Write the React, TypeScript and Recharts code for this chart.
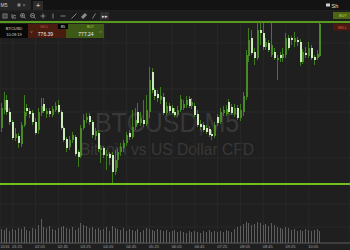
import React from 'react'
import { ComposedChart, Bar, XAxis, YAxis, CartesianGrid, ReferenceLine } from 'recharts'

const FONT = '"Liberation Sans", Arial, sans-serif'
const BG = '#1f1f1f'
const WICK = '#3f7c1e'
const UP_BODY = '#4a8a26'
const DOWN_BODY = '#cdeabd'

// BTCUSD M5 candles, first one at 01:05
const opens = [
  777.2, 779.0, 780.0, 778.8, 777.8, 776.2, 776.4, 775.6, 777.5, 779.2,
  778.9, 778.7, 777.8, 777.0, 778.7, 779.6, 778.6, 778.9, 778.5, 779.0,
  779.5, 778.8, 777.2, 776.1, 775.3, 776.0, 776.3, 774.8, 774.4, 777.2,
  778.0, 778.4, 777.8, 776.4, 776.7, 775.0, 775.2, 774.4, 774.6, 774.5,
  772.8, 774.0, 774.8, 775.2, 775.7, 776.7, 776.3, 777.3, 778.8, 777.7,
  778.0, 777.6, 778.8, 782.8, 781.0, 780.6, 780.0, 780.3, 778.7, 779.4,
  779.2, 778.8, 778.5, 779.0, 779.2, 779.5, 780.1, 779.4, 779.4, 778.6,
  777.6, 777.5, 777.2, 777.1, 776.6, 776.4, 778.3, 777.8, 778.7, 778.6,
  779.8, 779.3, 778.6, 779.2, 778.2, 778.8, 780.3, 784.4, 786.2, 784.8,
  784.2, 787.0, 786.7, 785.3, 785.7, 784.5, 784.8, 784.0, 784.5, 784.2,
  784.5, 786.2, 786.2, 785.8, 786.0, 785.8, 783.8, 784.7, 784.4, 785.2,
  784.3, 784.2, 784.4,
]
const highs = [
  779.7, 780.8, 780.5, 779.2, 778.0, 777.2, 776.7, 777.8, 780.5, 779.6,
  779.2, 779.0, 778.2, 779.2, 780.2, 780.2, 779.2, 779.2, 779.4, 779.8,
  780.0, 779.0, 777.4, 776.3, 776.4, 776.8, 776.5, 775.0, 777.5, 778.6,
  778.7, 778.7, 778.0, 777.2, 777.0, 775.5, 775.4, 775.0, 774.8, 774.8,
  775.0, 775.2, 775.7, 776.0, 776.8, 777.0, 779.0, 779.2, 779.7, 778.8,
  780.0, 780.5, 783.3, 783.2, 781.2, 781.0, 781.3, 780.7, 779.8, 779.7,
  779.5, 779.2, 779.4, 780.5, 780.0, 780.4, 780.4, 780.2, 779.7, 779.0,
  778.0, 777.8, 777.5, 777.4, 777.0, 777.8, 778.6, 779.2, 779.4, 779.5,
  780.1, 779.6, 779.6, 779.5, 779.6, 780.8, 785.0, 787.2, 787.0, 785.2,
  787.9, 787.8, 787.7, 786.2, 786.0, 787.7, 785.2, 784.5, 784.8, 785.2,
  786.7, 786.5, 786.4, 786.8, 786.3, 786.1, 785.1, 785.3, 785.8, 785.5,
  784.5, 785.0, 787.8,
]
const lows = [
  776.8, 778.6, 778.5, 777.5, 776.0, 775.9, 775.2, 775.3, 777.3, 778.4,
  778.2, 777.5, 776.5, 776.6, 778.4, 778.7, 778.2, 778.3, 778.3, 778.8,
  778.6, 777.0, 775.8, 774.8, 775.0, 775.7, 774.4, 773.3, 774.2, 777.0,
  777.7, 777.5, 776.2, 776.0, 774.8, 773.7, 774.2, 773.0, 773.5, 771.7,
  772.5, 773.2, 774.4, 774.8, 775.4, 776.0, 776.1, 777.0, 777.5, 777.4,
  777.3, 777.4, 778.2, 780.7, 780.0, 779.8, 779.6, 778.5, 778.5, 778.7,
  778.6, 778.3, 778.3, 778.8, 779.0, 779.2, 779.2, 779.1, 778.3, 777.3,
  777.0, 776.8, 776.6, 776.3, 776.0, 776.2, 777.4, 777.6, 778.4, 778.4,
  778.6, 778.5, 778.3, 778.0, 777.9, 778.4, 780.0, 783.8, 784.5, 783.5,
  784.0, 785.5, 785.0, 785.0, 784.8, 784.3, 784.0, 782.0, 783.8, 783.8,
  784.2, 785.0, 785.5, 785.3, 785.4, 783.4, 783.6, 784.2, 784.2, 784.0,
  783.5, 784.0, 784.3,
]
const closes = [
  779.2, 780.0, 778.8, 777.8, 776.2, 776.6, 775.7, 777.5, 778.8, 778.9,
  778.6, 777.8, 776.7, 778.8, 779.4, 778.9, 778.9, 778.6, 779.1, 779.4,
  778.8, 777.2, 776.0, 775.2, 776.0, 776.5, 774.6, 774.3, 777.2, 778.0,
  778.3, 777.8, 776.5, 776.9, 775.1, 775.2, 774.5, 774.6, 774.2, 772.8,
  774.0, 774.8, 775.3, 775.7, 776.5, 776.3, 777.3, 778.0, 777.7, 778.2,
  777.6, 779.0, 782.0, 781.0, 780.4, 780.2, 780.4, 778.7, 779.4, 778.9,
  778.7, 778.5, 779.0, 780.1, 779.6, 780.0, 779.4, 779.8, 778.5, 777.5,
  777.3, 777.0, 776.8, 776.5, 776.4, 777.5, 777.7, 778.8, 779.0, 779.1,
  778.8, 778.7, 779.2, 778.2, 779.0, 780.4, 784.5, 786.0, 784.7, 784.2,
  787.0, 786.7, 785.3, 785.8, 785.0, 785.5, 784.2, 784.2, 784.2, 784.6,
  786.2, 785.2, 786.0, 786.2, 785.8, 783.8, 784.8, 784.5, 785.2, 784.2,
  784.0, 784.6, 787.6,
]
const volumes = [
  140, 130, 150, 120, 140, 130, 150, 140, 160, 130, 120, 150, 140, 180,
  240,
  160, 150, 170, 140, 130, 150, 160, 170, 150, 140, 160, 130, 150,
  200, 180, 170, 150, 160, 140,
  150, 130, 140, 160, 120, 170, 150, 140, 130, 150, 120, 140,
  130, 120, 140, 110, 130, 150, 140, 130, 120, 140, 130, 120, 130, 110, 120, 130,
  110, 120, 110, 100, 120, 110, 120, 110, 100, 120, 110, 130, 110, 120, 110, 120, 110, 130, 120, 110, 140,
  160, 170, 190, 210, 200, 180, 190, 210, 200, 180, 190, 170, 200, 180,
  160, 150, 140, 160, 150,
  130, 140, 120, 130, 120, 140, 130, 120, 130, 140, 120,
]
const timeTicks = [
  '01:25', '02:05', '02:45', '03:25', '04:05', '04:45', '05:25',
  '06:05', '06:45', '07:25', '08:05', '08:45', '09:25', '10:05',
]
const priceGrid = [785.7, 783.4, 781.1, 778.8, 776.5, 774.2, 771.9, 769.6, 767.3]
const resistance = 787.8
const support = 771.6
const SLOTS = 123

const data = Array.from({ length: SLOTS }, (_, i) => {
  const m = 65 + i * 5
  const time = `${String(Math.floor(m / 60)).padStart(2, '0')}:${String(m % 60).padStart(2, '0')}`
  if (i >= opens.length) return { time }
  return {
    time,
    open: opens[i],
    high: highs[i],
    low: lows[i],
    close: closes[i],
    range: [lows[i], highs[i]],
    volume: volumes[i],
  }
})

function CandleShape(props: any) {
  const { x, y, width, height, payload } = props
  if (!payload || payload.high == null || height == null) return <g />
  const top = Math.min(y, y + height)
  const h = Math.abs(height)
  const k = h / (payload.high - payload.low || 1)
  const yO = top + (payload.high - payload.open) * k
  const yC = top + (payload.high - payload.close) * k
  const cx = Math.floor(x + width / 2)
  const up = payload.close >= payload.open
  return (
    <g shapeRendering="crispEdges">
      <rect x={cx} y={top} width={1} height={Math.max(1, h)} fill={WICK} />
      <rect
        x={cx - 0.5}
        y={Math.min(yO, yC)}
        width={2}
        height={Math.max(1, Math.abs(yC - yO))}
        fill={up ? UP_BODY : DOWN_BODY}
      />
    </g>
  )
}

function VolumeShape(props: any) {
  const { x, y, width, height } = props
  if (!height) return <g />
  return (
    <rect
      x={Math.floor(x + width / 2)}
      y={Math.min(y, y + height)}
      width={1}
      height={Math.abs(height)}
      fill="#5e5e5e"
      shapeRendering="crispEdges"
    />
  )
}

function TimeTick(props: any) {
  const { x, y, payload } = props
  return (
    <text x={x - 0.5} y={y + 5.3} fontSize={4} fill="#a0a0a0" fontFamily={FONT} textAnchor="start">
      {payload.value}
    </text>
  )
}

function Icon({ x, children }: { x: number; children: React.ReactNode }) {
  return <g transform={`translate(${x},16)`} stroke="#9a9a9a" strokeWidth={0.8} fill="none">{children}</g>
}

function Toolbar() {
  return (
    <svg width={350} height={250} style={{ position: 'absolute', left: 0, top: 0, pointerEvents: 'none' }}>
      <rect x={0} y={0} width={350} height={10.5} fill="#131313" />
      <rect x={0} y={0} width={31} height={10.5} fill="#262626" />
      <text x={0.5} y={7} fontSize={5} fill="#d0d0d0" fontFamily={FONT}>M5</text>
      <rect x={17.5} y={3.5} width={3} height={3} fill="#8a8a8a" />
      <text x={22.5} y={7.2} fontSize={5} fill="#8a8a8a" fontFamily={FONT}>×</text>
      <rect x={33} y={1} width={10} height={9} fill="#2c2c2c" />
      <text x={38} y={8.3} fontSize={8} fill="#e0e0e0" fontFamily={FONT} textAnchor="middle">+</text>
      <rect x={326} y={3.5} width={4} height={3} fill="#cfcfcf" />
      <text x={331.5} y={7.5} fontSize={5.5} fill="#e0e0e0" fontFamily={FONT}>Sh</text>
      <rect x={0} y={10.5} width={350} height={10} fill="#1c1c1c" />
      <line x1={0} y1={10.75} x2={350} y2={10.75} stroke="#2c2c2c" strokeWidth={0.5} />

      <Icon x={5}><rect x={-2} y={-2} width={4} height={4} /><line x1={-1} y1={0} x2={1} y2={0} /></Icon>
      <Icon x={14}><polyline points="-2,-2 -2,2 2,2" /><polyline points="-1,1 0,-1 2,0" /></Icon>
      <Icon x={23}><circle cx={-0.5} cy={-0.5} r={2} /><line x1={1} y1={1} x2={2.5} y2={2.5} /><line x1={-1.5} y1={-0.5} x2={0.5} y2={-0.5} /><line x1={-0.5} y1={-1.5} x2={-0.5} y2={0.5} /></Icon>
      <Icon x={33}><circle cx={-0.5} cy={-0.5} r={2} /><line x1={1} y1={1} x2={2.5} y2={2.5} /><line x1={-1.5} y1={-0.5} x2={0.5} y2={-0.5} /></Icon>
      <Icon x={43}><line x1={-2.5} y1={0} x2={2.5} y2={0} /><line x1={0} y1={-2.5} x2={0} y2={2.5} /></Icon>
      <Icon x={53}><line x1={0} y1={-2.5} x2={0} y2={2.5} /></Icon>
      <Icon x={63}><line x1={-2.5} y1={0} x2={2.5} y2={0} /></Icon>
      <Icon x={74}><line x1={-2.5} y1={2.5} x2={2.5} y2={-2.5} /></Icon>
      <Icon x={84}><line x1={-2.5} y1={1.5} x2={1.5} y2={-2.5} strokeWidth={1.4} /><line x1={-1.5} y1={2.5} x2={2.5} y2={-1.5} strokeWidth={1.4} /></Icon>
      <Icon x={94}><line x1={-1.5} y1={2.5} x2={1.5} y2={-2.5} /></Icon>
      <rect x={100} y={12} width={9} height={8} fill="#2e2e2e" />
      <text x={104.5} y={18} fontSize={5} fill="#e0e0e0" fontFamily={FONT} textAnchor="middle">▸▸</text>

      <rect x={333} y={12} width={17} height={7} fill="#4c6514" />
      <text x={339} y={17} fontSize={3.8} fill="#bcd448" fontFamily={FONT}>BUY</text>
      <rect x={333} y={23.5} width={17} height={7} fill="#4a1a10" />
      <text x={337.5} y={28.5} fontSize={3.8} fill="#e2553c" fontFamily={FONT}>SELL</text>

      <rect x={0} y={24} width={28} height={14} fill="#090909" />
      <text x={14} y={29.6} fontSize={4} fill="#dcdcdc" fontFamily={FONT} textAnchor="middle">BTCUSD</text>
      <text x={14} y={35.6} fontSize={4} fill="#cfcfcf" fontFamily={FONT} textAnchor="middle">10:28:19</text>
      <rect x={28} y={24} width={38} height={14} fill="#4a1c10" />
      <text x={31.5} y={32.5} fontSize={4} fill="#9a9a9a" fontFamily={FONT} textAnchor="middle">v</text>
      <text x={40} y={28.4} fontSize={3.5} fill="#d2492f" fontFamily={FONT}>SELL</text>
      <text x={45.5} y={35.6} fontSize={5} fill="#ececec" fontFamily={FONT} textAnchor="middle">776.39</text>
      <rect x={66} y={24} width={38} height={14} fill="#3e5816" />
      <text x={87} y={28.4} fontSize={3.5} fill="#a9c93c" fontFamily={FONT}>BUY</text>
      <text x={86} y={35.6} fontSize={5} fill="#ececec" fontFamily={FONT} textAnchor="middle">777.24</text>
      <text x={100.5} y={32.5} fontSize={4} fill="#9a9a9a" fontFamily={FONT} textAnchor="middle">v</text>
      <rect x={58} y={24} width={10} height={5} fill="#000" />
      <text x={63} y={28.2} fontSize={4} fill="#eeeeee" fontFamily={FONT} textAnchor="middle">85</text>

      <text x={0.5} y={248.3} fontSize={4} fill="#a0a0a0" fontFamily={FONT} textAnchor="start">2016</text>
    </svg>
  )
}

function Watermark() {
  return (
    <svg width={350} height={250} style={{ position: 'absolute', left: 0, top: 0 }}>
      <text x={95} y={132} fontSize={27} fill="#383838" fontFamily={FONT} textLength={144} lengthAdjust="spacingAndGlyphs">
        BTCUSD,M5
      </text>
      <text x={80} y={155} fontSize={16.5} fill="#383838" fontFamily={FONT} textLength={174} lengthAdjust="spacingAndGlyphs">
        Bitcoin vs US Dollar CFD
      </text>
    </svg>
  )
}

export default function App() {
  return (
    <div style={{ position: 'absolute', left: 0, top: 0, width: 350, height: 250, background: BG, overflow: 'hidden' }}>
      <Watermark />
      <div style={{ position: 'absolute', left: 0, top: 0 }}>
        <ComposedChart width={350} height={250} data={data} margin={{ top: 20, right: 0, bottom: 0, left: 0 }}>
          <CartesianGrid yAxisId="p" stroke="#282828" strokeWidth={1} />
          <XAxis
            dataKey="time"
            ticks={timeTicks}
            interval={0}
            height={7}
            tickLine={false}
            tickSize={0}
            tickMargin={0}
            axisLine={{ stroke: '#5a5a5a' }}
            tick={(p: any) => <TimeTick {...p} />}
          />
          <XAxis xAxisId="v" dataKey="time" hide />
          <YAxis yAxisId="p" hide domain={[765.7, 788.0]} ticks={priceGrid} allowDataOverflow />
          <YAxis yAxisId="v" hide domain={[0, 2230]} allowDataOverflow />
          <Bar xAxisId="v" yAxisId="v" dataKey="volume" shape={VolumeShape} isAnimationActive={false} />
          <Bar yAxisId="p" dataKey="range" shape={CandleShape} isAnimationActive={false} />
          <ReferenceLine yAxisId="p" y={resistance} stroke="#5a9a1a" strokeWidth={2} />
          <ReferenceLine yAxisId="p" y={support} stroke="#72c01c" strokeWidth={2} />
        </ComposedChart>
      </div>
      <Toolbar />
    </div>
  )
}
